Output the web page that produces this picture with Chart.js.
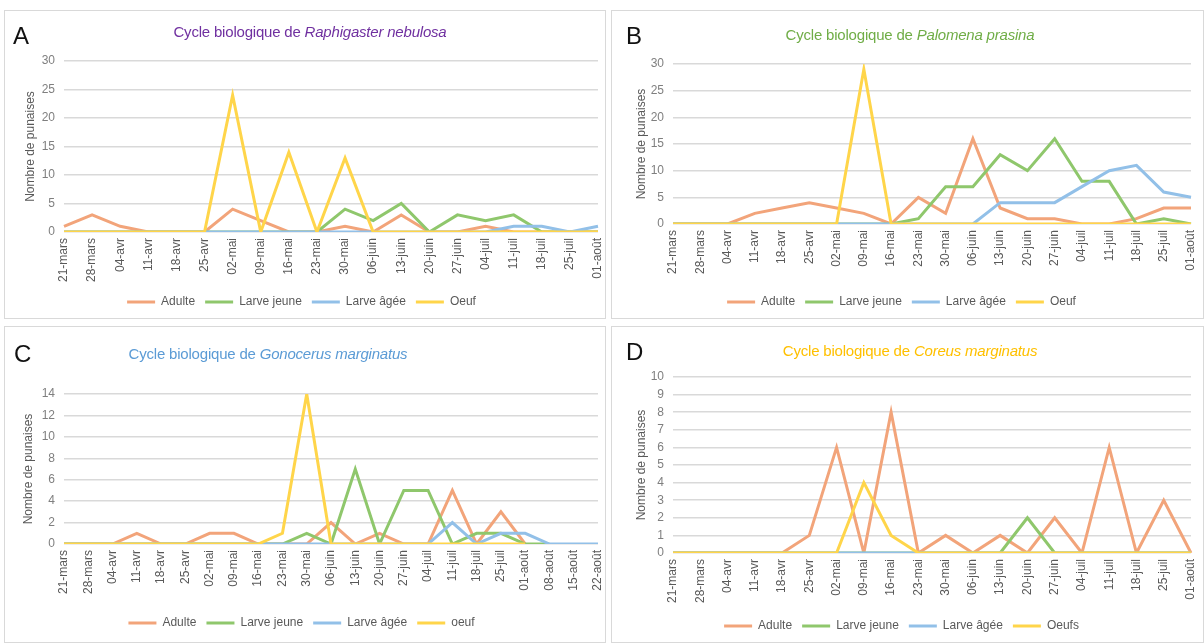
<!DOCTYPE html>
<html>
<head>
<meta charset="utf-8">
<script src="https://cdn.jsdelivr.net/npm/chart.js@4"></script>
<style>
  body { margin: 0; background: #fff; width: 1204px; height: 643px; overflow: hidden; position: relative;
         font-family: 'Liberation Sans', sans-serif; }
  .panel { position: absolute; border: 1px solid #d9d9d9; box-sizing: border-box; background: #fff; }
  .panel canvas { position: absolute; left: 0; top: 0; }
  .letter { position: absolute; font-family: 'Liberation Sans', sans-serif; font-size: 24px; color: #111; }
  .title { position: absolute; font-size: 15px; white-space: nowrap; transform: translateX(-50%); letter-spacing: -0.2px; }
</style>
</head>
<body>
<div class="panel" id="pA" style="left:4px;top:10px;width:602px;height:309px;"><canvas id="chartA"></canvas></div>
<div class="panel" id="pB" style="left:611px;top:10px;width:593px;height:309px;"><canvas id="chartB"></canvas></div>
<div class="panel" id="pC" style="left:4px;top:326px;width:602px;height:317px;"><canvas id="chartC"></canvas></div>
<div class="panel" id="pD" style="left:611px;top:326px;width:593px;height:317px;"><canvas id="chartD"></canvas></div>

<div class="letter" style="left:13px;top:22px;">A</div>
<div class="letter" style="left:626px;top:22px;">B</div>
<div class="letter" style="left:14px;top:340px;">C</div>
<div class="letter" style="left:626px;top:338px;">D</div>

<div class="title" style="left:310px;top:23px;color:#7030a0;">Cycle biologique de <i>Raphigaster nebulosa</i></div>
<div class="title" style="left:910px;top:26px;color:#70ad47;">Cycle biologique de <i>Palomena prasina</i></div>
<div class="title" style="left:268px;top:345px;color:#5b9bd5;">Cycle biologique de <i>Gonocerus marginatus</i></div>
<div class="title" style="left:910px;top:342px;color:#ffc000;">Cycle biologique de <i>Coreus marginatus</i></div>

<script>
// weekly sampling dates
const weeks = ['21-mars', '28-mars', '04-avr', '11-avr', '18-avr', '25-avr', '02-mai', '09-mai', '16-mai', '23-mai',
    '30-mai', '06-juin', '13-juin', '20-juin', '27-juin', '04-juil', '11-juil', '18-juil', '25-juil', '01-août'];
const weeksC = [...weeks, '08-août', '15-août', '22-août'];

// A - Raphigaster nebulosa
const adulteA = [1, 3, 1, 0, 0, 0, 4, 2, 0, 0, 1, 0, 3, 0, 0, 1, 0, 0, 0, 0];
const jeuneA  = [0, 0, 0, 0, 0, 0, 0, 0, 0, 0, 4, 2, 5, 0, 3, 2, 3, 0, 0, 0];
const ageeA   = [0, 0, 0, 0, 0, 0, 0, 0, 0, 0, 0, 0, 0, 0, 0, 0, 1, 1, 0, 1];
const oeufA   = [0, 0, 0, 0, 0, 0, 24, 0, 14, 0, 13, 0, 0, 0, 0, 0, 0, 0, 0, 0];

// B - Palomena prasina
const adulteB = [0, 0, 0, 2, 3, 4, 3, 2, 0, 5, 2, 16, 3, 1, 1, 0, 0, 1, 3, 3];
const jeuneB  = [0, 0, 0, 0, 0, 0, 0, 0, 0, 1, 7, 7, 13, 10, 16, 8, 8, 0, 1, 0];
const ageeB   = [0, 0, 0, 0, 0, 0, 0, 0, 0, 0, 0, 0, 4, 4, 4, 7, 10, 11, 6, 5];
const oeufB   = [0, 0, 0, 0, 0, 0, 0, 29, 0, 0, 0, 0, 0, 0, 0, 0, 0, 0, 0, 0];

// C - Gonocerus marginatus
const adulteC = [0, 0, 0, 1, 0, 0, 1, 1, 0, 0, 0, 2, 0, 1, 0, 0, 5, 0, 3, 0, null, null, null];
const jeuneC  = [0, 0, 0, 0, 0, 0, 0, 0, 0, 0, 1, 0, 7, 0, 5, 5, 0, 1, 1, 0, 0, null, null];
const ageeC   = [0, 0, 0, 0, 0, 0, 0, 0, 0, 0, 0, 0, 0, 0, 0, 0, 2, 0, 1, 1, 0, 0, 0];
const oeufC   = [0, 0, 0, 0, 0, 0, 0, 0, 0, 1, 14, 0, 0, 0, 0, 0, 0, 0, 0, 0, null, null, null];

// D - Coreus marginatus
const adulteD = [0, 0, 0, 0, 0, 1, 6, 0, 8, 0, 1, 0, 1, 0, 2, 0, 6, 0, 3, 0];
const jeuneD  = [0, 0, 0, 0, 0, 0, 0, 0, 0, 0, 0, 0, 0, 2, 0, 0, 0, 0, 0, 0];
const ageeD   = [0, 0, 0, 0, 0, 0, 0, 0, 0, 0, 0, 0, 0, 0, 0, 0, 0, 0, 0, 0];
const oeufD   = [0, 0, 0, 0, 0, 0, 0, 4, 1, 0, 0, 0, 0, 0, 0, 0, 0, 0, 0, 0];

const namesAB = ['Adulte', 'Larve jeune', 'Larve âgée', 'Oeuf'];
const namesC = ['Adulte', 'Larve jeune', 'Larve âgée', 'oeuf'];
const namesD = ['Adulte', 'Larve jeune', 'Larve âgée', 'Oeufs'];

const colors = ['#f2a47a', '#8fc76c', '#92c0e8', '#ffd54a'];
const font = "'Liberation Sans', sans-serif";

function makeChart(id, labels, series, names, yMax, yStep, box) {
    const el = document.getElementById(id);
    const panel = el.parentElement;
    el.width = panel.clientWidth;
    el.height = panel.clientHeight;

    const datasets = series.map((data, i) => ({
        label: names[i],
        data,
        borderColor: colors[i],
        backgroundColor: colors[i],
        borderWidth: 3,
        pointRadius: 0,
        tension: 0,
        order: 4 - i   // last series drawn on top, like Excel
    }));

    return new Chart(el, {
        type: 'line',
        data: { labels, datasets },
        options: {
            responsive: false,
            animation: false,
            layout: { padding: { top: box.top, right: box.right, bottom: box.bottom, left: 0 } },
            plugins: {
                legend: {
                    position: 'bottom',
                    labels: {
                        usePointStyle: true,
                        pointStyle: 'line',
                        pointStyleWidth: 28,
                        boxHeight: 10,
                        padding: 10,
                        color: '#595959',
                        font: { family: font, size: 12 },
                        sort: (a, b) => a.datasetIndex - b.datasetIndex
                    }
                },
                tooltip: { enabled: false }
            },
            scales: {
                x: {
                    offset: false,
                    grid: { display: false, drawTicks: false },
                    border: { display: false },
                    ticks: { autoSkip: false, maxRotation: 90, minRotation: 90, padding: 6,
                             color: '#595959', font: { family: font, size: 12 } },
                    afterFit: s => { s.height = box.xh; s.paddingLeft = 0; s.paddingRight = 0; }
                },
                y: {
                    min: 0, max: yMax,
                    grid: { color: '#d9d9d9', lineWidth: 1.5, drawTicks: false },
                    border: { display: false },
                    ticks: { stepSize: yStep, autoSkip: false, padding: 9, color: '#7f7f7f',
                             font: { family: font, size: 12 } },
                    title: { display: true, text: 'Nombre de punaises', color: '#595959',
                             font: { family: font, size: 12 }, padding: { top: box.tp, bottom: 0 } },
                    afterFit: s => { s.width = box.yw; }
                }
            }
        }
    });
}

makeChart('chartA', weeks, [adulteA, jeuneA, ageeA, oeufA], namesAB, 30, 5,
    { top: 50, right: 7, bottom: 0, xh: 54, yw: 59, tp: 18 });
makeChart('chartB', weeks, [adulteB, jeuneB, ageeB, oeufB], namesAB, 30, 5,
    { top: 53, right: 12, bottom: 0, xh: 62, yw: 61, tp: 22 });
makeChart('chartC', weeksC, [adulteC, jeuneC, ageeC, oeufC], namesC, 14, 2,
    { top: 67, right: 7, bottom: 3, xh: 63, yw: 59, tp: 16 });
makeChart('chartD', weeks, [adulteD, jeuneD, ageeD, oeufD], namesD, 10, 1,
    { top: 50, right: 12, bottom: 0, xh: 57, yw: 61, tp: 22 });
</script>
</body>
</html>
